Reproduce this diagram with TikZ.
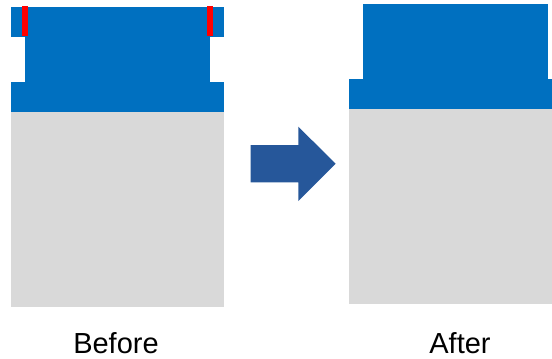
\documentclass[tikz,border=0pt]{standalone}
\usepackage{fontspec}
\setmainfont{Liberation Sans}
\definecolor{partblue}{HTML}{0070C0}
\definecolor{basegray}{HTML}{D9D9D9}
\definecolor{arrowblue}{HTML}{26579A}
\definecolor{markred}{HTML}{FF0000}
\begin{document}
\begin{tikzpicture}[x=1pt,y=-1pt,
  bluepart/.style={fill=partblue,draw=none},
  graypart/.style={fill=basegray,draw=none},
  redmark/.style={fill=markred,draw=none},
  caption/.style={font=\fontsize{29}{30}\selectfont,anchor=base,inner sep=0pt,text depth=0pt}]
\useasboundingbox (0,0) rectangle (552,359);
% Before
\fill[graypart] (11,111.7) rectangle (224,307);
\fill[bluepart] (11,82) rectangle (224,111.7);
\fill[bluepart] (25,36) rectangle (210,83);
\fill[bluepart] (11,7) rectangle (224,36.7);
\fill[redmark] (22,6) rectangle (28,35.7);
\fill[redmark] (207.3,6) rectangle (213.3,35.7);
% After
\fill[graypart] (349,108.7) rectangle (552,304);
\fill[bluepart] (349,79) rectangle (552,108.7);
\fill[bluepart] (363,4) rectangle (548,80);
% Arrow
\fill[arrowblue] (250.7,145) -- (298.3,145) -- (298.3,126.7) -- (335.7,163.7)
  -- (298.3,201) -- (298.3,182.3) -- (250.7,182.3) -- cycle;
% Captions
\node[caption] (before) at (116,353) {Before};
\node[caption] (after) at (460,353) {After};
\end{tikzpicture}
\end{document}
